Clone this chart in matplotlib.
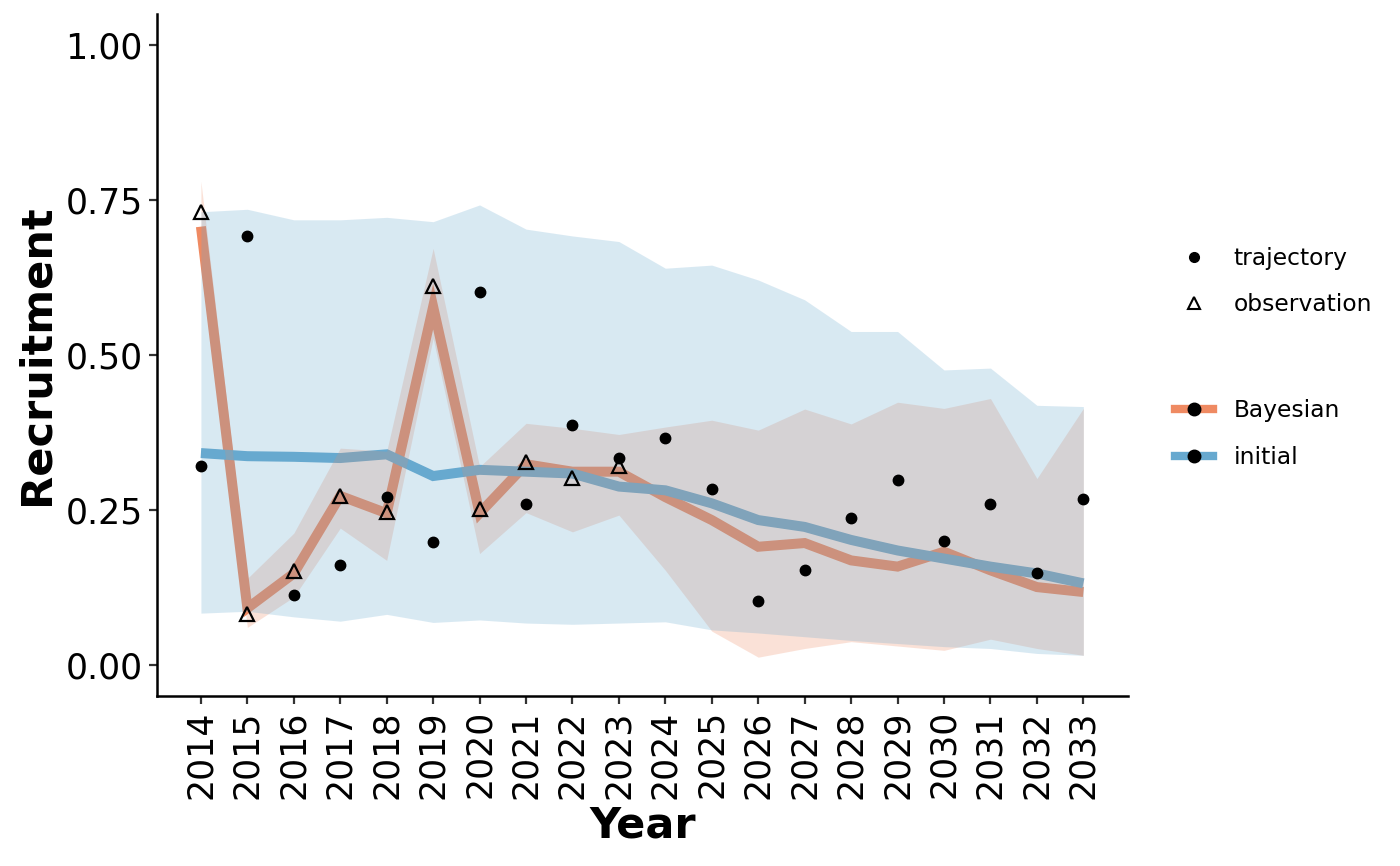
"""
Recruitment trajectories: Bayesian vs initial
"""
import matplotlib
matplotlib.use("Agg")
import matplotlib.pyplot as plt
import numpy as np
from matplotlib.lines import Line2D

plt.rcParams["font.family"] = ["DejaVu Sans"]

# data
years = list(range(2014, 2034))
bayes_med = [0.707, 0.092, 0.148, 0.273, 0.245, 0.578, 0.245, 0.324, 0.312, 0.312,
             0.271, 0.234, 0.191, 0.197, 0.169, 0.159, 0.183, 0.153, 0.126, 0.118]
bayes_lo = [0.640, 0.061, 0.110, 0.221, 0.169, 0.527, 0.180, 0.246, 0.215, 0.242,
            0.153, 0.055, 0.013, 0.027, 0.038, 0.031, 0.024, 0.042, 0.027, 0.016]
bayes_hi = [0.780, 0.140, 0.213, 0.350, 0.345, 0.672, 0.320, 0.390, 0.382, 0.372,
            0.384, 0.395, 0.379, 0.413, 0.389, 0.424, 0.414, 0.430, 0.301, 0.414]
init_med = [0.342, 0.337, 0.336, 0.334, 0.340, 0.305, 0.315, 0.312, 0.309, 0.288,
            0.282, 0.261, 0.234, 0.223, 0.202, 0.185, 0.172, 0.159, 0.148, 0.132]
init_lo = [0.084, 0.087, 0.078, 0.071, 0.082, 0.069, 0.073, 0.068, 0.066, 0.068,
           0.070, 0.057, 0.052, 0.046, 0.040, 0.035, 0.030, 0.027, 0.019, 0.016]
init_hi = [0.731, 0.735, 0.718, 0.718, 0.722, 0.715, 0.742, 0.703, 0.692, 0.683,
           0.640, 0.645, 0.621, 0.589, 0.538, 0.538, 0.476, 0.479, 0.419, 0.417]
trajectory = [0.321, 0.692, 0.113, 0.161, 0.271, 0.198, 0.602, 0.260, 0.387, 0.334,
              0.366, 0.284, 0.103, 0.153, 0.237, 0.298, 0.200, 0.260, 0.148, 0.268]
obs_years = list(range(2014, 2024))
observation = [0.731, 0.082, 0.152, 0.273, 0.247, 0.611, 0.252, 0.327, 0.302, 0.321]

col_bayes = "#EF8A62"
col_init = "#67A9CF"

fig = plt.figure(figsize=(14, 8.66), dpi=100)
ax = fig.add_axes([0.112, 0.196, 0.694, 0.788])

# lines first, ribbons over them
ax.plot(years, bayes_med, color=col_bayes, lw=7.2, solid_joinstyle="miter", solid_capstyle="butt", zorder=1)
ax.plot(years, init_med, color=col_init, lw=7.2, solid_joinstyle="miter", solid_capstyle="butt", zorder=1)
ax.fill_between(years, bayes_lo, bayes_hi, color=col_bayes, alpha=0.25, lw=0, zorder=2)
ax.fill_between(years, init_lo, init_hi, color=col_init, alpha=0.25, lw=0, zorder=2)

ax.plot(years, trajectory, "o", color="black", ms=7.5, zorder=3)
ax.plot(obs_years, observation, "^", mfc="none", mec="black", mew=1.6, ms=10, zorder=4)

ax.set_xlim(2013.05, 2033.97)
ax.set_ylim(-0.05, 1.05)
ax.set_xticks(years)
ax.set_xticklabels([str(y) for y in years], rotation=90)
ax.set_yticks([0, 0.25, 0.5, 0.75, 1.0])
ax.set_yticklabels(["0.00", "0.25", "0.50", "0.75", "1.00"])
ax.tick_params(labelsize=25, length=6, width=1.6, color="#333333", pad=4)
for s in ["top", "right"]:
    ax.spines[s].set_visible(False)
for s in ["left", "bottom"]:
    ax.spines[s].set_linewidth(1.8)
ax.set_xlabel("Year", fontsize=31, fontweight="bold", labelpad=4)
ax.set_ylabel("Recruitment", fontsize=31, fontweight="bold", labelpad=6)

# legends
h1 = [Line2D([], [], ls="none", marker="o", color="black", ms=7),
      Line2D([], [], ls="none", marker="^", mfc="none", mec="black", mew=1.5, ms=9)]
leg1 = fig.legend(h1, ["trajectory", "observation"], loc="upper left",
                  bbox_to_anchor=(0.8245, 0.739), frameon=False, fontsize=16.8,
                  handlelength=1.6, handletextpad=0.9, labelspacing=1.0)
h2 = [Line2D([], [], color=col_bayes, lw=6, marker="o", mfc="black", mec="black", ms=9),
      Line2D([], [], color=col_init, lw=6, marker="o", mfc="black", mec="black", ms=9)]
leg2 = fig.legend(h2, ["Bayesian", "initial"], loc="upper left",
                  bbox_to_anchor=(0.8245, 0.563), frameon=False, fontsize=16.8,
                  handlelength=1.6, handletextpad=0.9, labelspacing=1.0)

fig.savefig("out.png", dpi=100)
